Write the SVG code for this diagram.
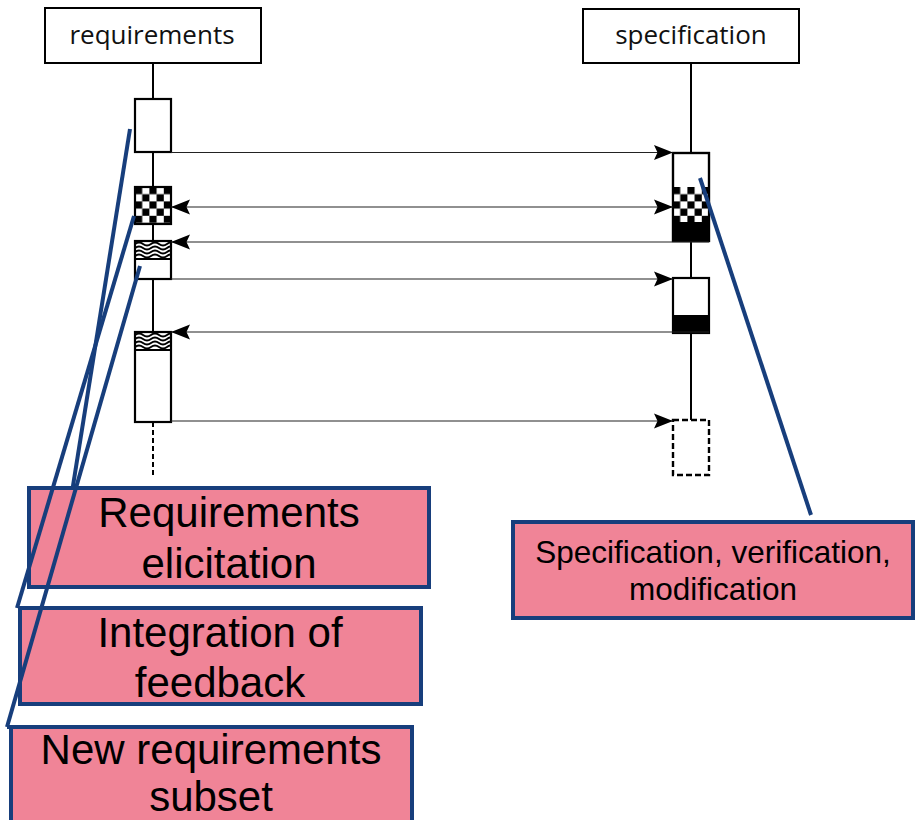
<svg xmlns="http://www.w3.org/2000/svg" width="916" height="820" viewBox="0 0 916 820">
  <style>
    .hdr { fill: #fff; stroke: #000; stroke-width: 2; }
    .hdrtxt { font-family: "Open Sans", "DejaVu Sans", sans-serif; font-size: 26px; fill: #111; text-anchor: middle; }
    .life { stroke: #000; stroke-width: 2; fill: none; }
    .dash { stroke-dasharray: 5 3; }
    .act { fill: #fff; stroke: #000; stroke-width: 2.2; }
    .msg { stroke: #222; stroke-width: 1.1; fill: none; }
    .wave { stroke: #000; stroke-width: 1.9; fill: none; }
    .note { fill: #F08497; stroke: #173E7C; stroke-width: 4; }
    .ptr { stroke: #173E7C; stroke-width: 4; fill: none; }
    .notetxt { font-family: "Liberation Sans", Arial, sans-serif; font-size: 42px; fill: #000; text-anchor: middle; }
    .notetxt-s { font-family: "Liberation Sans", Arial, sans-serif; font-size: 31.5px; fill: #000; text-anchor: middle; }
  </style>
  <defs>
    <marker id="head" viewBox="-20 -9 21 18" refX="0" refY="0" markerWidth="21" markerHeight="18" markerUnits="userSpaceOnUse" orient="auto-start-reverse">
      <path d="M0,0 L-19,-7.5 L-15.5,0 L-19,7.5 Z" fill="#000"/>
    </marker>
    <pattern id="chkL" x="135" y="187" width="14.4" height="14.4" patternUnits="userSpaceOnUse">
      <rect width="14.4" height="14.4" fill="#fff"/>
      <rect width="7.2" height="7.2" fill="#000"/>
      <rect x="7.2" y="7.2" width="7.2" height="7.2" fill="#000"/>
    </pattern>
    <pattern id="chkR" x="673" y="187" width="14.4" height="14.4" patternUnits="userSpaceOnUse">
      <rect width="14.4" height="14.4" fill="#fff"/>
      <rect width="7.2" height="7.2" fill="#000"/>
      <rect x="7.2" y="7.2" width="7.2" height="7.2" fill="#000"/>
    </pattern>
    <g id="waves">
      <path class="wave" d="M0,2 q4,-3 8,0 t8,0 t8,0 t8,0 t8,0"/>
      <path class="wave" d="M0,6 q4,-3 8,0 t8,0 t8,0 t8,0 t8,0"/>
      <path class="wave" d="M0,10 q4,-3 8,0 t8,0 t8,0 t8,0 t8,0"/>
      <path class="wave" d="M0,14 q4,-3 8,0 t8,0 t8,0 t8,0 t8,0"/>
    </g>
    <clipPath id="clipW1"><rect x="136" y="242" width="34" height="17"/></clipPath>
    <clipPath id="clipW2"><rect x="136" y="333" width="34" height="17"/></clipPath>
  </defs>

  <rect width="916" height="820" fill="#fff"/>

  <!-- lifeline heads -->
  <g id="requirements">
    <rect class="hdr" x="45" y="8" width="216" height="55"/>
    <text class="hdrtxt" x="152" y="44">requirements</text>
  </g>
  <g id="specification">
    <rect class="hdr" x="583" y="9" width="216" height="54"/>
    <text class="hdrtxt" x="691" y="44">specification</text>
  </g>

  <!-- lifelines -->
  <g id="lifelines">
    <path class="life" d="M153,63 V99 M153,152 V187 M153,224 V241 M153,279 V332"/>
    <path class="life dash" d="M153,422 V476"/>
    <path class="life" d="M691,63 V153 M691,241 V278 M691,333 V420"/>
  </g>

  <!-- activations on the requirements side -->
  <g id="req-act-1">
    <rect class="act" x="135" y="99" width="36" height="53"/>
  </g>
  <g id="req-act-2">
    <rect x="135" y="187" width="36" height="37" fill="url(#chkL)" stroke="#000" stroke-width="2.2"/>
  </g>
  <g id="req-act-3">
    <rect class="act" x="135" y="241" width="36" height="38"/>
    <g clip-path="url(#clipW1)"><use href="#waves" x="135" y="242"/></g>
    <line x1="135" y1="259" x2="171" y2="259" stroke="#000" stroke-width="2"/>
  </g>
  <g id="req-act-4">
    <rect class="act" x="135" y="332" width="36" height="90"/>
    <g clip-path="url(#clipW2)"><use href="#waves" x="135" y="333"/></g>
    <line x1="135" y1="350" x2="171" y2="350" stroke="#000" stroke-width="2"/>
  </g>

  <!-- activations on the specification side -->
  <g id="spec-act-1">
    <rect class="act" x="673" y="153" width="36" height="88"/>
    <rect x="673" y="187" width="36" height="35" fill="url(#chkR)"/>
    <rect x="673" y="222" width="36" height="19" fill="#000"/>
    <rect x="673" y="153" width="36" height="88" fill="none" stroke="#000" stroke-width="2.2"/>
  </g>
  <g id="spec-act-2">
    <rect class="act" x="673" y="278" width="36" height="55"/>
    <rect x="673" y="315" width="36" height="18" fill="#000"/>
  </g>
  <g id="spec-act-3">
    <rect x="673" y="420" width="36" height="55" fill="#fff" stroke="#000" stroke-width="2.4" stroke-dasharray="6 3"/>
  </g>

  <!-- messages -->
  <g id="connectors">
    <path class="msg" d="M171,152.5 H673" marker-end="url(#head)"/>
    <path class="msg" d="M171,207 H673" marker-start="url(#head)" marker-end="url(#head)"/>
    <path class="msg" d="M709,242 H171" marker-end="url(#head)"/>
    <path class="msg" d="M171,279 H673" marker-end="url(#head)"/>
    <path class="msg" d="M709,332 H171" marker-end="url(#head)"/>
    <path class="msg" d="M171,421 H673" marker-end="url(#head)"/>
  </g>

  <!-- callouts -->
  <g id="note-elicitation">
    <line class="ptr" x1="130" y1="129" x2="72" y2="492"/>
    <rect class="note" x="29" y="488" width="400" height="99"/>
    <text class="notetxt" x="229" y="527">Requirements</text>
    <text class="notetxt" x="229" y="578">elicitation</text>
  </g>
  <g id="note-feedback">
    <line class="ptr" x1="134" y1="216" x2="17" y2="608"/>
    <rect class="note" x="20" y="608" width="401" height="96"/>
    <text class="notetxt" x="220" y="647">Integration of</text>
    <text class="notetxt" x="220" y="697">feedback</text>
  </g>
  <g id="note-subset">
    <line class="ptr" x1="140" y1="266" x2="7" y2="727"/>
    <rect class="note" x="11" y="727" width="401" height="110"/>
    <line class="ptr" x1="7" y1="727" x2="13" y2="727"/>
    <text class="notetxt" x="211" y="764">New requirements</text>
    <text class="notetxt" x="211" y="811">subset</text>
  </g>
  <g id="note-spec">
    <line class="ptr" x1="700" y1="178" x2="811" y2="515"/>
    <rect class="note" x="513" y="522" width="400" height="96"/>
    <text class="notetxt-s" x="713" y="563">Specification, verification,</text>
    <text class="notetxt-s" x="713" y="600">modification</text>
  </g>
</svg>
